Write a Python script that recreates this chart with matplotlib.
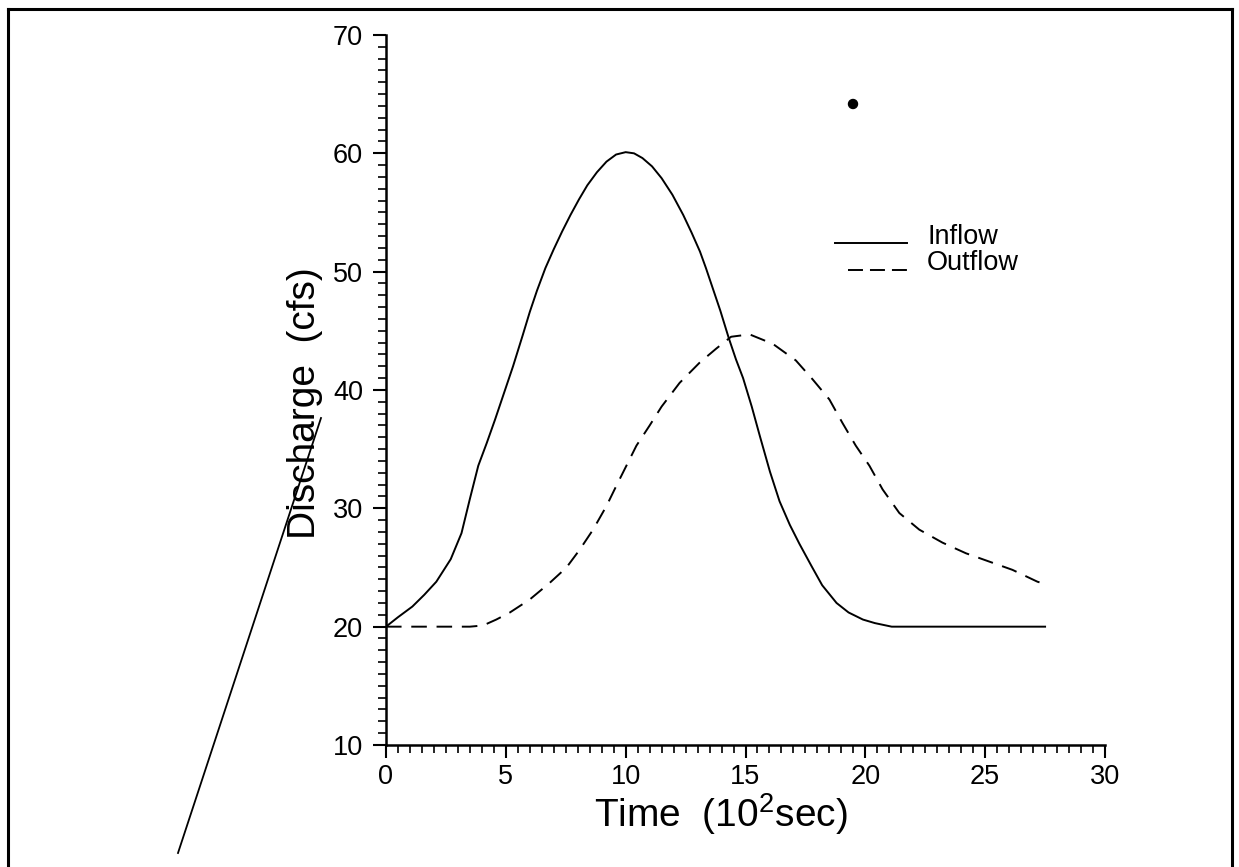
import matplotlib
matplotlib.use("Agg")
import matplotlib.pyplot as plt
from matplotlib.lines import Line2D
from matplotlib.patches import Ellipse
from matplotlib.ticker import MultipleLocator

plt.rcParams['font.family'] = ['Liberation Sans', 'DejaVu Sans']
plt.rcParams['mathtext.fontset'] = 'custom'
plt.rcParams['mathtext.rm'] = 'Liberation Sans'
plt.rcParams['mathtext.it'] = 'Liberation Sans'

# ---- data (time in 10^2 s, discharge in cfs) ----
inflow_t = [0, 0.5, 1.1, 1.6, 2.1, 2.7, 3.15, 3.5, 3.85, 4.2, 4.55, 4.85, 5.3,
            5.7, 6.0, 6.3, 6.65, 7.0, 7.35, 7.7, 8.05, 8.4, 8.8, 9.2, 9.6,
            10.0, 10.35, 10.7, 11.1, 11.5, 11.95, 12.4, 12.75, 13.1, 13.35,
            13.6, 13.95, 14.3, 14.6, 14.9, 15.26, 15.6, 16.02, 16.42, 16.85,
            17.25, 17.76, 18.2, 18.8, 19.3, 19.9, 20.4, 21.1, 27.5]
inflow_q = [20.0, 20.8, 21.7, 22.7, 23.8, 25.7, 27.9, 30.8, 33.6, 35.5, 37.5,
            39.3, 42.0, 44.6, 46.6, 48.4, 50.3, 51.9, 53.4, 54.8, 56.1, 57.3,
            58.4, 59.3, 59.9, 60.1, 60.0, 59.6, 58.9, 57.9, 56.5, 54.8, 53.3,
            51.7, 50.3, 48.8, 46.7, 44.4, 42.6, 41.0, 38.6, 36.1, 33.1, 30.6,
            28.6, 27.0, 25.1, 23.5, 22.0, 21.2, 20.6, 20.3, 20.0, 20.0]

outflow_t = [0, 3.5, 4.05, 4.6, 5.17, 6.0, 6.83, 7.53, 8.08, 8.64, 9.2, 9.61,
             10.03, 10.45, 11.0, 11.5, 12.25, 13.08, 13.78, 14.4, 15.17,
             16.14, 17.1, 17.8, 18.5, 19.05, 19.6, 20.17, 20.72, 21.42, 22.25,
             23.22, 24.2, 25.17, 26.14, 27.18, 27.5]
outflow_q = [20.0, 20.0, 20.1, 20.6, 21.2, 22.3, 23.7, 25.0, 26.5, 28.2, 30.2,
             31.9, 33.6, 35.3, 37.0, 38.6, 40.6, 42.3, 43.5, 44.5, 44.7, 43.9,
             42.5, 40.9, 39.2, 37.2, 35.3, 33.6, 31.6, 29.6, 28.2, 27.1, 26.2,
             25.5, 24.8, 23.8, 23.6]

series_labels = ["Inflow", "Outflow"]
x_label = "Time  (10$^{2}$sec)"
y_label = "Discharge  (cfs)"

W, H = 1239, 867
fig = plt.figure(figsize=(W / 100, H / 100), dpi=100)

def fx(px):
    return px / W

def fy(py):
    return 1 - py / H

ax = fig.add_axes([fx(386), fy(745), fx(1105) - fx(386), fy(35) - fy(745)])

lw = 1.4
ax.plot(inflow_t, inflow_q, color='black', lw=lw, solid_joinstyle='round')
ax.plot(outflow_t, outflow_q, color='black', lw=lw, linestyle=(0, (8, 5)))

ax.set_xlim(0, 30)
ax.set_ylim(10, 70)
ax.xaxis.set_major_locator(MultipleLocator(5))
ax.xaxis.set_minor_locator(MultipleLocator(0.5))
ax.yaxis.set_major_locator(MultipleLocator(10))
ax.yaxis.set_minor_locator(MultipleLocator(1))

for s in ['top', 'right']:
    ax.spines[s].set_visible(False)
for s in ['left', 'bottom']:
    ax.spines[s].set_linewidth(1.8)

ax.tick_params(which='major', direction='out', length=9.5, width=1.5,
               labelsize=19.5, pad=4)
ax.tick_params(which='minor', direction='out', length=6, width=1.2)
ax.tick_params(axis='y', which='major', pad=7)

ax.set_xlabel(x_label, fontsize=28)
ax.set_ylabel(y_label, fontsize=28)
ax.xaxis.set_label_coords((721 - 386) / 719, (745 - 791) / 710)
ax.yaxis.set_label_coords((323 - 386) / 719, (745 - 403) / 710)

# legend drawn by hand
fig.add_artist(Line2D([fx(835), fx(907)], [fy(243), fy(243)], color='black', lw=lw))
fig.add_artist(Line2D([fx(848), fx(907)], [fy(270), fy(270)], color='black', lw=lw,
                      linestyle=(0, (7.7, 3.6))))
fig.text(fx(927), fy(237), series_labels[0], fontsize=19.5, va='center', ha='left')
fig.text(fx(927), fy(263), series_labels[1], fontsize=19.5, va='center', ha='left')

# page frame and scan artefacts
frame_kw = dict(color='black', lw=2.2, solid_capstyle='projecting')
fig.add_artist(Line2D([fx(8), fx(1232)], [fy(9), fy(9)], **frame_kw))
fig.add_artist(Line2D([fx(8), fx(8)], [fy(9), fy(867)], **frame_kw))
fig.add_artist(Line2D([fx(1232), fx(1232)], [fy(9), fy(867)], **frame_kw))
fig.add_artist(Line2D([fx(178), fx(321)], [fy(853), fy(418)], color='black', lw=1.3))
fig.add_artist(Ellipse((fx(853), fy(104)), 9 / W, 9 / H, color='black'))

fig.savefig("out.png", dpi=100)
